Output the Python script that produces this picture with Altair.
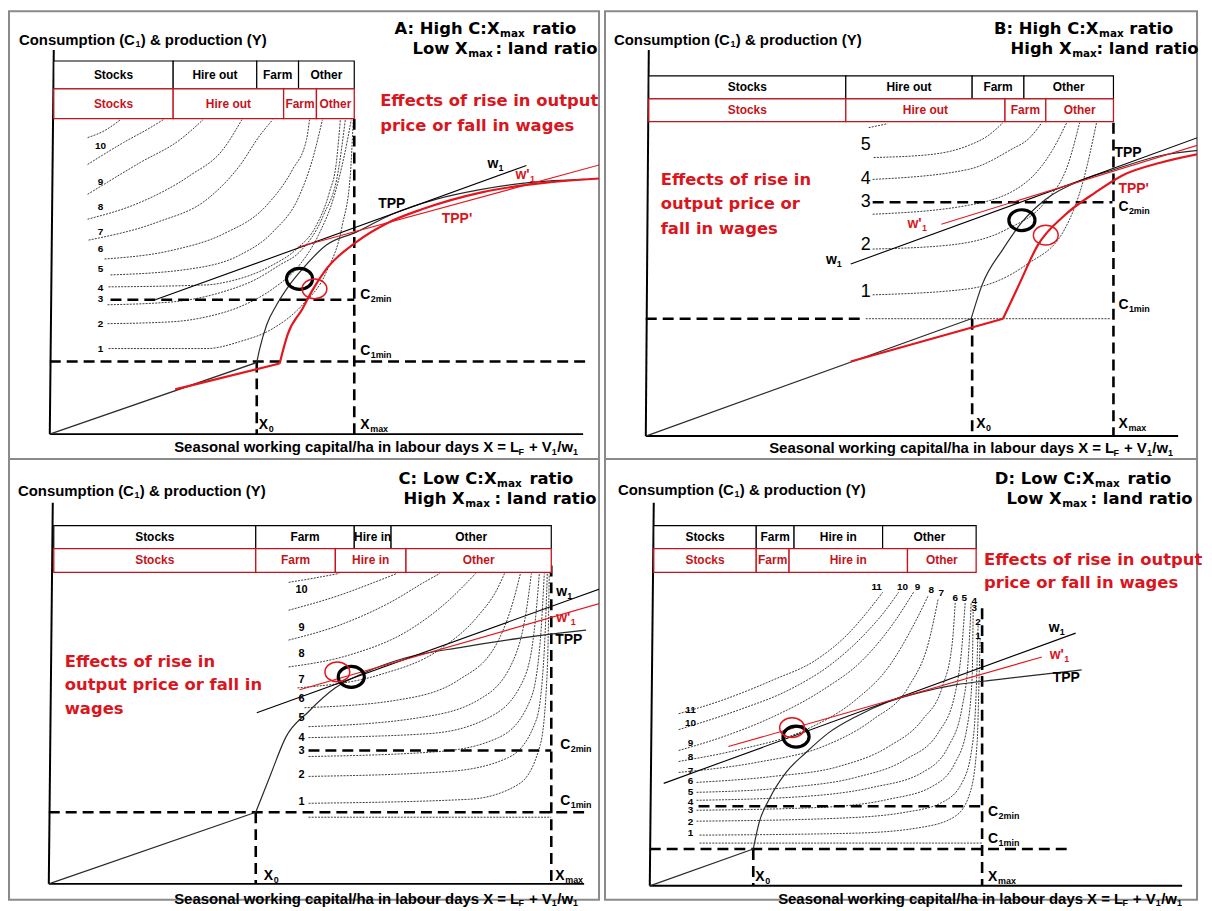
import altair as alt
import pandas as pd

# ---------------------------------------------------------------- styles
RED_LINE = "#e4151c"
RED_TEXT = "#d9161d"
RED_TABLE = "#c4141b"
FRAME = "#8a8a8a"
IC_COLOR = "#3c3c3c"
ARIAL = "Liberation Sans, Arial, Helvetica, sans-serif"
WIDE = "DejaVu Sans, Verdana, sans-serif"
NARROW = "Liberation Sans Narrow, Arial Narrow, Liberation Sans, sans-serif"
ELLIPSE = "M-1,0A1,0.8,0,1,1,1,0A1,0.8,0,1,1,-1,0Z"

Y_LABEL = ["Consumption (C", "1", ") & production (Y)"]
X_LABEL = ["Seasonal working capital/ha in labour days X = L", "F", "+ V", "1", "/w", "1"]

# ================================================================ PANEL A
A_AXES = [[(4, 386), (0, 0)], [(0, 0), (536, 0)]]
A_ROWS = [317, 347, 375]
A_EDGES_BLACK = [4, 124, 208, 250, 306]
A_EDGES_RED = [4, 124, 235, 268, 306]
A_NAMES_BLACK = ["Stocks", "Hire out", "Farm", "Other"]
A_NAMES_RED = ["Stocks", "Hire out", "Farm", "Other"]
A_DASHED = [[(306, 317), (306, 0)], [(0, 73), (540, 73)], [(61, 135), (306, 135)], [(208, 73), (208, 0)]]
A_IC = [
    [(38, 298), (55, 305), (71, 316)],
    [(38, 271), (74, 293), (101, 308), (114, 316)],
    [(38, 241), (91, 273), (131, 296), (154, 316)],
    [(38, 216), (91, 233), (141, 260), (174, 286), (193, 316)],
    [(39, 195), (108, 213), (158, 236), (191, 270), (211, 300), (224, 316)],
    [(55, 176), (124, 185), (174, 201), (218, 230), (244, 266), (258, 296), (261, 316)],
    [(61, 160), (141, 166), (191, 180), (224, 203), (251, 240), (264, 276), (274, 316)],
    [(59, 148), (158, 150), (178, 153), (224, 170), (248, 186), (268, 210), (281, 243), (288, 273), (292, 316)],
    [(58, 130), (124, 133), (174, 143), (208, 156), (231, 170), (251, 183), (275, 220), (290, 265), (297, 316)],
    [(58, 111), (124, 113), (158, 118), (191, 128), (224, 146), (251, 170), (270, 200), (286, 240), (296, 280), (303, 316)],
    [(59, 86), (158, 86), (191, 93), (224, 106), (254, 130), (278, 163), (294, 210), (302, 260), (305, 316)],
]
A_TPP = [[(0, 0), (208, 72)],
         [(208, 72), (211, 86), (218, 110), (228, 130), (241, 150), (254, 166), (278, 190), (308, 203),
          (344, 221), (388, 236), (434, 246), (484, 253), (538, 256)]]
A_TPP_RED = [[(126, 45), (231, 71)],
             [(231, 71), (239, 100), (254, 126), (263, 143), (278, 166), (308, 193), (341, 213), (374, 226),
              (434, 243), (501, 253), (554, 257)]]
A_W1 = [[(106, 135), (479, 270)]]
A_W1_RED = [[(250, 188), (554, 271)]]
A_CIRC_BLACK = [(251, 156)]
A_CIRC_RED = [(266, 146)]
A_NUMS = [("10", 51, 290), ("9", 51, 253), ("8", 51, 228), ("7", 51, 203), ("6", 51, 186),
          ("5", 51, 166), ("4", 51, 147), ("3", 51, 136), ("2", 51, 111), ("1", 51, 86)]
A_SUB_BLACK = [("C", "2min", 312, 140), ("C", "1min", 312, 84), ("X", "max", 312, 9), ("X", "0", 210, 9),
               ("w", "1", 440, 271)]
A_SUB_RED = [("w'", "1", 468, 260)]
A_TPP_LAB = [("TPP", 330, 231)]
A_TPP_RED_LAB = [("TPP'", 394, 216)]
A_EFFECTS = [("Effects of rise in output", 332, 335), ("price or fall in wages", 332, 310)]
A_TITLE = [("A: High C:X", "ratio", 452, 485, 407), ("Low X", ": land ratio", 420, 448, 387)]
A_YLAB = (-31, 396)
A_XLAB = (125, -13)

# ================================================================ PANEL B
B_AXES = [[(3, 388), (0, 0)], [(0, 0), (535, 0)]]
B_ROWS = [316, 339, 362]
B_EDGES_BLACK = [3, 201, 328, 380, 470]
B_EDGES_RED = [3, 201, 361, 402, 470]
B_NAMES_BLACK = ["Stocks", "Hire out", "Farm", "Other"]
B_NAMES_RED = ["Stocks", "Hire out", "Farm", "Other"]
B_DASHED = [[(470, 315), (470, 0)], [(0, 118), (221, 118)], [(228, 235), (469, 235)], [(328, 118), (328, 0)]]
B_IC = [
    [(224, 310), (243, 314)],
    [(229, 280), (286, 283), (324, 292), (344, 302), (359, 315)],
    [(228, 258), (324, 268), (367, 288), (386, 300), (398, 315)],
    [(228, 223), (324, 232), (382, 255), (409, 288), (423, 315)],
    [(228, 188), (305, 192), (363, 208), (401, 235), (425, 275), (436, 315)],
    [(228, 142), (324, 148), (382, 172), (421, 208), (440, 258), (453, 315)],
    [(221, 118), (467, 118)],
]
B_TPP = [[(0, 0), (327, 118)],
         [(327, 118), (338, 152), (359, 188), (378, 215), (402, 238), (440, 258), (471, 268), (518, 282), (563, 288)]]
B_TPP_RED = [[(206, 75), (359, 118)],
             [(359, 118), (375, 152), (394, 192), (421, 222), (452, 245), (479, 262), (518, 275), (563, 285)]]
B_W1 = [[(206, 173), (563, 303)]]
B_W1_RED = [[(297, 213), (563, 295)]]
B_CIRC_BLACK = [(378, 217)]
B_CIRC_RED = [(402, 202)]
B_NUMS = [("5", 221, 293), ("4", 221, 258), ("3", 221, 235), ("2", 221, 192), ("1", 221, 145)]
B_SUB_BLACK = [("C", "2min", 475, 230), ("C", "1min", 475, 132), ("X", "max", 475, 12), ("X", "0", 332, 12),
               ("w", "1", 181, 177)]
B_SUB_RED = [("w'", "1", 263, 213)]
B_TPP_LAB = [("TPP", 471, 285)]
B_TPP_RED_LAB = [("TPP'", 475, 248)]
B_EFFECTS = [("Effects of rise in", 15, 257), ("output price or", 15, 233), ("fall in wages", 15, 208)]
B_TITLE = [("B: High C:X", "ratio", 455, 486, 409), ("High X", ": land ratio", 428, 453, 389)]
B_YLAB = (-32, 398)
B_XLAB = (124, -12)

# ================================================================ PANEL C
C_AXES = [[(4, 383), (0, 0)], [(0, 0), (538, 0)]]
C_ROWS = [313, 337, 360]
C_EDGES_BLACK = [5, 208, 307, 344, 505]
C_EDGES_RED = [5, 208, 288, 359, 505]
C_NAMES_BLACK = ["Stocks", "Farm", "Hire in", "Other"]
C_NAMES_RED = ["Stocks", "Farm", "Hire in", "Other"]
C_DASHED = [[(208, 72), (208, 0)], [(505, 320), (505, 0)], [(0, 72), (538, 72)], [(261, 134), (505, 134)]]
C_IC = [
    [(241, 303), (265, 307), (292, 312)],
    [(241, 275), (292, 290), (327, 303), (350, 312)],
    [(241, 245), (292, 260), (347, 285), (377, 303), (393, 312)],
    [(241, 218), (302, 230), (362, 255), (402, 285), (429, 312)],
    [(250, 197), (332, 210), (392, 235), (432, 270), (450, 295), (458, 312)],
    [(257, 177), (352, 185), (412, 205), (452, 245), (467, 285), (474, 312)],
    [(261, 158), (372, 167), (432, 185), (467, 225), (480, 275), (485, 312)],
    [(261, 147), (382, 151), (442, 167), (477, 205), (489, 265), (493, 312)],
    [(261, 128), (392, 133), (452, 147), (484, 185), (494, 245), (498, 312)],
    [(261, 108), (402, 113), (462, 127), (490, 165), (498, 235), (501, 312)],
    [(261, 81), (422, 85), (472, 100), (494, 140), (501, 215), (503, 312)],
    [(261, 67), (505, 67)],
]
C_TPP = [[(0, 0), (208, 72)],
         [(208, 72), (223, 110), (238, 147), (261, 173), (288, 197), (319, 213), (358, 227), (416, 238),
          (474, 247), (513, 252), (540, 255)]]
C_TPP_RED = []
C_W1 = [[(209, 172), (558, 298)]]
C_W1_RED = [[(252, 195), (558, 283)]]
C_CIRC_BLACK = [(304, 208)]
C_CIRC_RED = [(290, 213)]
C_NUMS = [("10", 254, 295), ("9", 254, 257), ("8", 254, 231), ("7", 254, 205), ("6", 254, 186),
          ("5", 254, 167), ("4", 254, 147), ("3", 254, 134), ("2", 254, 109), ("1", 254, 82)]
C_SUB_BLACK = [("C", "2min", 514, 140), ("C", "1min", 514, 83), ("X", "max", 509, 8), ("X", "0", 216, 8),
               ("w", "1", 510, 293)]
C_SUB_RED = [("w'", "1", 510, 267)]
C_TPP_LAB = [("TPP", 509, 245)]
C_TPP_RED_LAB = []
C_EFFECTS = [("Effects of rise in", 16, 223), ("output price or fall in", 16, 200), ("wages", 16, 176)]
C_TITLE = [("C: Low C:X", "ratio", 450, 483, 407), ("High X", ": land ratio", 418, 448, 387)]
C_YLAB = (-31, 395)
C_XLAB = (126, -15)

# ================================================================ PANEL D
D_AXES = [[(4, 385), (0, 0)], [(0, 0), (535, 0)]]
D_ROWS = [315, 339, 362]
D_EDGES_BLACK = [4, 107, 145, 234, 328]
D_EDGES_RED = [4, 107, 140, 259, 328]
D_NAMES_BLACK = ["Stocks", "Farm", "Hire in", "Other"]
D_NAMES_RED = ["Stocks", "Farm", "Hire in", "Other"]
D_DASHED = [[(104, 37), (104, 0)], [(334, 279), (334, 0)], [(0, 37), (423, 37)], [(49, 80), (334, 80)]]
D_IC = [
    [(29, 173), (74, 187), (124, 207), (167, 227), (200, 254), (220, 277), (234, 295)],
    [(29, 157), (90, 177), (140, 197), (184, 224), (217, 254), (237, 277), (250, 295)],
    [(29, 136), (74, 150), (124, 170), (174, 197), (214, 227), (247, 267), (265, 295)],
    [(29, 125), (90, 137), (157, 157), (207, 187), (240, 220), (264, 260), (280, 292)],
    [(29, 114), (107, 124), (174, 140), (224, 167), (260, 200), (280, 244), (290, 289)],
    [(47, 104), (124, 110), (190, 120), (240, 140), (274, 167), (294, 200), (304, 244), (307, 285)],
    [(47, 94), (140, 99), (207, 109), (257, 127), (290, 154), (307, 194), (314, 244), (317, 285)],
    [(47, 86), (157, 90), (224, 99), (274, 114), (300, 140), (314, 180), (320, 227), (323, 284)],
    [(47, 76), (174, 79), (240, 87), (284, 100), (307, 124), (319, 160), (324, 210), (325, 277)],
    [(47, 65), (190, 68), (257, 74), (294, 84), (314, 104), (324, 140), (328, 194), (330, 264)],
    [(50, 51), (207, 53), (274, 59), (307, 70), (322, 94), (329, 144), (331, 210), (332, 249)],
    [(50, 43), (334, 43)],
]
D_TPP = [[(0, 0), (104, 37)],
         [(104, 37), (110, 64), (120, 87), (137, 114), (157, 134), (180, 154), (207, 170), (240, 185),
          (274, 195), (307, 202), (347, 207), (390, 212), (434, 217)]]
D_TPP_RED = []
D_W1 = [[(14, 103), (428, 254)]]
D_W1_RED = [[(79, 140), (394, 230)]]
D_CIRC_BLACK = [(147, 150)]
D_CIRC_RED = [(143, 159)]
D_NUMS = [("11", 41, 177), ("10", 41, 164), ("9", 41, 144), ("8", 41, 129), ("7", 41, 115), ("6", 41, 105),
          ("5", 41, 94), ("4", 41, 84), ("3", 41, 76), ("2", 41, 64), ("1", 41, 53),
          ("11", 228, 300), ("10", 254, 300), ("9", 269, 300), ("8", 283, 297), ("7", 293, 294),
          ("6", 307, 289), ("5", 316, 289), ("4", 326, 286), ("3", 326, 279), ("2", 330, 265), ("1", 330, 251)]
D_SUB_BLACK = [("C", "2min", 340, 74), ("C", "1min", 340, 47), ("X", "max", 340, 9), ("X", "0", 106, 9),
               ("w", "1", 401, 259)]
D_SUB_RED = [("w'", "1", 402, 232)]
D_TPP_LAB = [("TPP", 405, 209)]
D_TPP_RED_LAB = []
D_EFFECTS = [("Effects of rise in output", 336, 327), ("price or fall in wages", 336, 304)]
D_TITLE = [("D: Low C:X", "ratio", 447, 480, 409), ("Low X", ": land ratio", 414, 443, 389)]
D_YLAB = (-32, 398)
D_XLAB = (129, -13)

SUB_DX = {"C": 10.5, "X": 10, "w": 11, "w'": 14.5}


def series_df(series):
    rows = []
    for g, pts in enumerate(series):
        for o, (x, y) in enumerate(pts):
            rows.append({"g": g, "o": o, "x": x, "y": y})
    return pd.DataFrame(rows, columns=["g", "o", "x", "y"])


def panel(xd, yd, w, h, axes, rows, eb, er, nb, nr, dashed, ic, tpp, tpp_red, w1, w1_red,
          cb, cr, nums, num_style, sub_black, sub_red, tpp_lab, tpp_red_lab, effects, title, ylab, xlab):
    def X():
        return alt.X("x:Q", scale=alt.Scale(domain=xd, nice=False, zero=False), axis=None)

    def Y():
        return alt.Y("y:Q", scale=alt.Scale(domain=yd, nice=False, zero=False), axis=None)

    layers = []

    def lines(series, **kw):
        if not series:
            return
        layers.append(alt.Chart(series_df(series)).mark_line(clip=True, **kw)
                      .encode(x=X(), y=Y(), detail="g:N", order="o:Q"))

    def texts(items, **kw):
        if not items:
            return
        df = pd.DataFrame(items, columns=["t", "x", "y"])
        layers.append(alt.Chart(df).mark_text(baseline="middle", **kw)
                      .encode(x=X(), y=Y(), text="t:N"))

    def rects(edges, y0, y1, **kw):
        df = pd.DataFrame({"x": edges[:-1], "x2": edges[1:], "y": [y0] * (len(edges) - 1),
                           "y2": [y1] * (len(edges) - 1)})
        layers.append(alt.Chart(df).mark_rect(**kw).encode(x=X(), x2="x2:Q", y=Y(), y2="y2:Q"))

    def points(pts, **kw):
        if not pts:
            return
        df = pd.DataFrame(pts, columns=["x", "y"])
        layers.append(alt.Chart(df).mark_point(shape=ELLIPSE, filled=False, **kw).encode(x=X(), y=Y()))

    lines(ic, color=IC_COLOR, strokeWidth=1.0, strokeDash=[2, 1.2], interpolate="monotone")
    lines(axes, color="black", strokeWidth=2)
    lines(dashed, color="black", strokeWidth=2.6, strokeDash=[11, 6])
    rects(eb, rows[1], rows[2], fill="white", stroke="black", strokeWidth=1.2)
    rects(er, rows[0], rows[1], fill="white", stroke=RED_TABLE, strokeWidth=1.3)
    cy_b = (rows[1] + rows[2]) / 2
    cy_r = (rows[0] + rows[1]) / 2
    texts([(n, (eb[i] + eb[i + 1]) / 2, cy_b) for i, n in enumerate(nb)],
          font=ARIAL, fontSize=12, fontWeight="bold", color="black", align="center")
    texts([(n, (er[i] + er[i + 1]) / 2, cy_r) for i, n in enumerate(nr)],
          font=ARIAL, fontSize=12, fontWeight="bold", color=RED_TABLE, align="center")
    lines(tpp, color="#2a2a2a", strokeWidth=1.2, interpolate="monotone")
    lines(tpp_red, color=RED_LINE, strokeWidth=2.2, interpolate="monotone")
    lines(w1, color="black", strokeWidth=1.1)
    lines(w1_red, color=RED_LINE, strokeWidth=1.1)
    points(cb, size=690, color="black", strokeWidth=3.2, opacity=1)
    points(cr, size=620, color=RED_LINE, strokeWidth=1.5, opacity=1)
    texts(nums, color="black", align="center", **num_style)
    for items, col in ((sub_black, "black"), (sub_red, RED_TEXT)):
        if not items:
            continue
        texts([(m, x, y) for m, s, x, y in items], font=ARIAL, fontSize=14, fontWeight="bold",
              color=col, align="left")
        texts([(s, x + SUB_DX[m], y - 4) for m, s, x, y in items], font=ARIAL, fontSize=9,
              fontWeight="bold", color=col, align="left")
    texts(tpp_lab, font=ARIAL, fontSize=14, fontWeight="bold", color="black", align="left")
    texts(tpp_red_lab, font=ARIAL, fontSize=14, fontWeight="bold", color=RED_TEXT, align="left")
    texts(effects, font=WIDE, fontSize=16.5, fontWeight="bold", color=RED_TEXT, align="left")
    texts([(a, ax, y) for a, b, ax, bx, y in title], font=WIDE, fontSize=16.5, fontWeight="bold",
          color="black", align="right")
    texts([("max", ax + 0.5, y - 5) for a, b, ax, bx, y in title], font=WIDE, fontSize=10.5,
          fontWeight="bold", color="black", align="left")
    texts([(b, bx, y) for a, b, ax, bx, y in title], font=WIDE, fontSize=16.5, fontWeight="bold",
          color="black", align="left")
    yx, yy = ylab
    texts([(Y_LABEL[0], yx, yy), (Y_LABEL[2], yx + 122.5, yy)], font=ARIAL, fontSize=15,
          fontWeight="bold", color="black", align="left")
    texts([(Y_LABEL[1], yx + 117.2, yy - 4)], font=ARIAL, fontSize=9, fontWeight="bold",
          color="black", align="left")
    xx, xy = xlab
    texts([(X_LABEL[0], xx, xy), (X_LABEL[2], xx + 356.5, xy), (X_LABEL[4], xx + 385, xy)],
          font=ARIAL, fontSize=15, fontWeight="bold", color="black", align="left")
    texts([(X_LABEL[1], xx + 346, xy - 4.5), (X_LABEL[3], xx + 379.6, xy - 4.5), (X_LABEL[5], xx + 400.8, xy - 4.5)],
          font=ARIAL, fontSize=9, fontWeight="bold", color="black", align="left")
    return alt.layer(*layers).properties(width=w, height=h)


SMALL_NUM = dict(font=ARIAL, fontSize=10, fontWeight="bold")
BIG_NUM = dict(font=NARROW, fontSize=18, fontWeight="normal")

pA = panel([-41, 552], [-25, 425], 593, 450, A_AXES, A_ROWS, A_EDGES_BLACK, A_EDGES_RED, A_NAMES_BLACK,
           A_NAMES_RED, A_DASHED, A_IC, A_TPP, A_TPP_RED, A_W1, A_W1_RED, A_CIRC_BLACK, A_CIRC_RED,
           A_NUMS, SMALL_NUM, A_SUB_BLACK, A_SUB_RED, A_TPP_LAB, A_TPP_RED_LAB, A_EFFECTS, A_TITLE,
           A_YLAB, A_XLAB)
pB = panel([-41, 554], [-23, 427], 595, 450, B_AXES, B_ROWS, B_EDGES_BLACK, B_EDGES_RED, B_NAMES_BLACK,
           B_NAMES_RED, B_DASHED, B_IC, B_TPP, B_TPP_RED, B_W1, B_W1_RED, B_CIRC_BLACK, B_CIRC_RED,
           B_NUMS, BIG_NUM, B_SUB_BLACK, B_SUB_RED, B_TPP_LAB, B_TPP_RED_LAB, B_EFFECTS, B_TITLE,
           B_YLAB, B_XLAB)
pC = panel([-40, 553], [-16, 427], 593, 443, C_AXES, C_ROWS, C_EDGES_BLACK, C_EDGES_RED, C_NAMES_BLACK,
           C_NAMES_RED, C_DASHED, C_IC, C_TPP, C_TPP_RED, C_W1, C_W1_RED, C_CIRC_BLACK, C_CIRC_RED,
           C_NUMS, dict(font=ARIAL, fontSize=11, fontWeight="bold"), C_SUB_BLACK, C_SUB_RED, C_TPP_LAB,
           C_TPP_RED_LAB, C_EFFECTS, C_TITLE, C_YLAB, C_XLAB)
pD = panel([-45, 550], [-14, 429], 595, 443, D_AXES, D_ROWS, D_EDGES_BLACK, D_EDGES_RED, D_NAMES_BLACK,
           D_NAMES_RED, D_DASHED, D_IC, D_TPP, D_TPP_RED, D_W1, D_W1_RED, D_CIRC_BLACK, D_CIRC_RED,
           D_NUMS, SMALL_NUM, D_SUB_BLACK, D_SUB_RED, D_TPP_LAB, D_TPP_RED_LAB, D_EFFECTS, D_TITLE,
           D_YLAB, D_XLAB)

chart = alt.concat(
    pA, pB, pC, pD, columns=2, spacing={"row": 0, "column": 6}, bounds="flush",
    padding=0, background="white",
).configure_view(stroke=FRAME, strokeWidth=2)

chart.save("out.html", embed_options={"renderer": "svg", "actions": False})
